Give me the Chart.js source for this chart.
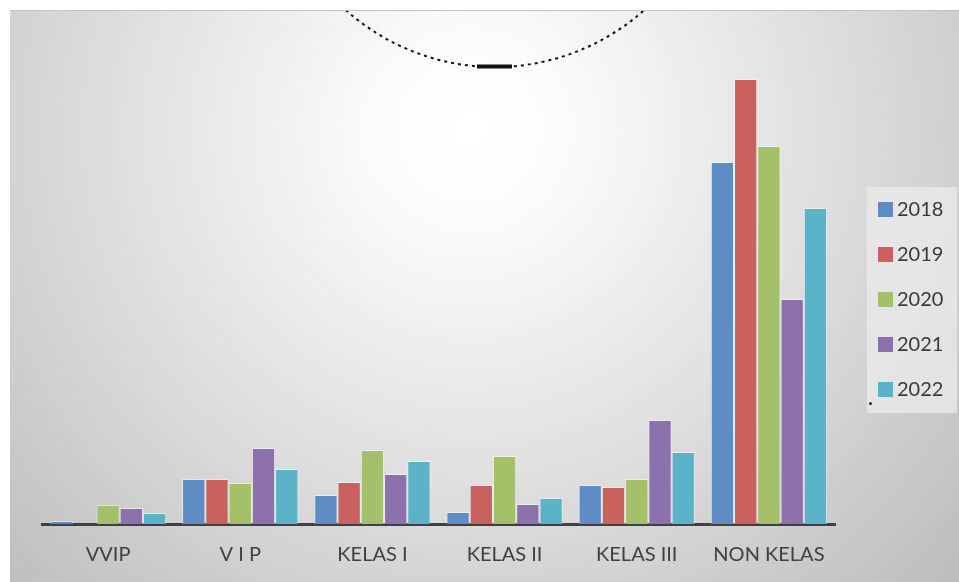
<!DOCTYPE html>
<html>
<head>
<meta charset="utf-8">
<script src="https://cdn.jsdelivr.net/npm/chart.js@4.4.1/dist/chart.umd.min.js"></script>
<style>
  html, body { margin: 0; padding: 0; background: #ffffff; }
  #wrap { width: 959px; height: 582px; position: relative; }
</style>
</head>
<body>
<div id="wrap"><canvas id="c" width="959" height="582"></canvas></div>
<script>
// Room classes and yearly values
const categories = ['VVIP', 'V I P', 'KELAS I', 'KELAS II', 'KELAS III', 'NON KELAS'];
const years = ['2018', '2019', '2020', '2021', '2022'];
const values2018 = [3, 45, 29, 12, 39, 362];
const values2019 = [0, 45, 42, 39, 37, 445];
const values2020 = [19, 41, 74, 68, 45, 378];
const values2021 = [16, 76, 50, 20, 104, 225];
const values2022 = [11, 55, 63, 26, 72, 316];
const seriesColors = ['#5e8dc5', '#c9625f', '#a4c16a', '#8c71ad', '#5bb3c9'];

const seriesValues = [values2018, values2019, values2020, values2021, values2022];

// Soft radial backdrop behind the plot, plus the frame line on top
const backdrop = {
  id: 'backdrop',
  beforeDraw(chart) {
    const ctx = chart.ctx;
    ctx.save();
    ctx.fillStyle = '#ffffff';
    ctx.fillRect(0, 0, chart.width, chart.height);
    const g = ctx.createRadialGradient(470, 130, 0, 470, 130, 660);
    g.addColorStop(0, '#ffffff');
    g.addColorStop(0.15, '#fbfbfb');
    g.addColorStop(1, '#bdbdbd');
    ctx.fillStyle = g;
    ctx.fillRect(10, 10, chart.width - 10, chart.height - 10);
    ctx.strokeStyle = '#c4c4c4';
    ctx.lineWidth = 1;
    ctx.beginPath();
    ctx.moveTo(10, 10.5);
    ctx.lineTo(chart.width, 10.5);
    ctx.stroke();

    // dashed arc hanging from the top edge
    ctx.beginPath();
    ctx.rect(10, 11, chart.width - 10, 80);
    ctx.clip();
    ctx.strokeStyle = '#111111';
    ctx.lineWidth = 2;
    ctx.setLineDash([3, 4]);
    ctx.beginPath();
    ctx.arc(495, -157, 224, Math.PI * 0.25, Math.PI * 0.75);
    ctx.stroke();
    ctx.setLineDash([]);
    ctx.lineWidth = 4;
    ctx.beginPath();
    ctx.moveTo(477, 66.5);
    ctx.lineTo(512, 66.5);
    ctx.stroke();
    ctx.restore();
  }
};

// Legend panel at the right, built from the datasets
const sideLegend = {
  id: 'sideLegend',
  afterDraw(chart) {
    const ctx = chart.ctx;
    ctx.save();
    ctx.fillStyle = 'rgba(235,235,235,0.75)';
    ctx.fillRect(867, 187, 90, 226);
    chart.data.datasets.forEach((ds, i) => {
      const cy = 209 + i * 45;
      ctx.fillStyle = ds.backgroundColor;
      ctx.fillRect(878, cy - 7, 15, 15);
      ctx.fillStyle = '#3a3a3a';
      ctx.font = '20px Lato';
      ctx.textBaseline = 'middle';
      ctx.textAlign = 'left';
      ctx.fillText(ds.label, 897, cy + 1);
    });
    ctx.fillStyle = '#222222';
    ctx.beginPath();
    ctx.arc(870.5, 403.5, 1.5, 0, Math.PI * 2);
    ctx.fill();
    ctx.restore();
  }
};

new Chart(document.getElementById('c'), {
  type: 'bar',
  data: {
    labels: categories,
    datasets: years.map((y, i) => ({
      label: y,
      data: seriesValues[i],
      backgroundColor: seriesColors[i],
      borderColor: 'rgba(255,255,255,0.45)',
      borderWidth: 1,
      categoryPercentage: 0.88,
      barPercentage: 1.0
    }))
  },
  options: {
    responsive: false,
    animation: false,
    events: [],
    layout: { padding: { left: 42, right: 124, top: 11, bottom: 0 } },
    plugins: { legend: { display: false }, tooltip: { enabled: false } },
    scales: {
      x: {
        grid: { display: false, drawTicks: false },
        border: { display: true, color: '#404040', width: 3 },
        ticks: { color: '#404040', font: { family: 'Lato', size: 20 }, padding: 19, maxRotation: 0 },
        afterFit(scale) { scale.height = 58; }
      },
      y: {
        display: false,
        min: 0,
        max: 513
      }
    }
  },
  plugins: [backdrop, sideLegend]
});
</script>
</body>
</html>
